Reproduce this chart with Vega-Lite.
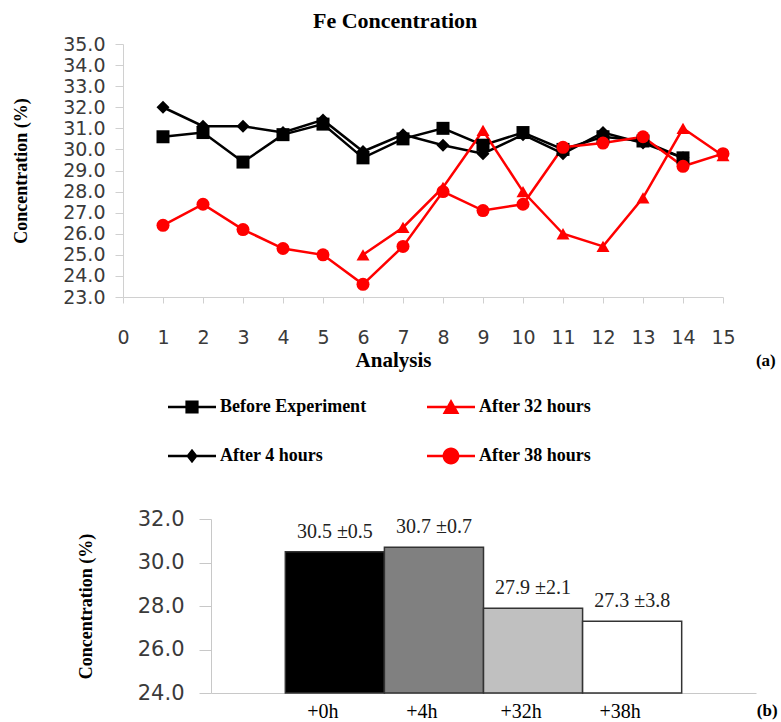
{
  "$schema": "https://vega.github.io/schema/vega-lite/v6.json",
  "background": "white",
  "padding": {"left": 12, "top": 10, "right": 0, "bottom": 0},
  "bounds": "flush",
  "spacing": 222,
  "title": {"text": "Fe Concentration", "font": "Liberation Serif", "fontSize": 22, "fontWeight": "bold", "color": "black", "anchor": "middle", "offset": 2},
  "config": {"view": {"stroke": null}},
  "resolve": {"scale": {"color": "independent", "shape": "independent", "size": "independent", "fill": "independent", "stroke": "independent"}},
  "datasets": {
    "lines": [
      {"series": "Before Experiment", "analysis": 1, "value": 30.6},
      {"series": "Before Experiment", "analysis": 2, "value": 30.8},
      {"series": "Before Experiment", "analysis": 3, "value": 29.4},
      {"series": "Before Experiment", "analysis": 4, "value": 30.7},
      {"series": "Before Experiment", "analysis": 5, "value": 31.2},
      {"series": "Before Experiment", "analysis": 6, "value": 29.6},
      {"series": "Before Experiment", "analysis": 7, "value": 30.5},
      {"series": "Before Experiment", "analysis": 8, "value": 31.0},
      {"series": "Before Experiment", "analysis": 9, "value": 30.2},
      {"series": "Before Experiment", "analysis": 10, "value": 30.8},
      {"series": "Before Experiment", "analysis": 11, "value": 30.0},
      {"series": "Before Experiment", "analysis": 12, "value": 30.6},
      {"series": "Before Experiment", "analysis": 13, "value": 30.4},
      {"series": "Before Experiment", "analysis": 14, "value": 29.6},
      {"series": "After 4 hours", "analysis": 1, "value": 32.0},
      {"series": "After 4 hours", "analysis": 2, "value": 31.1},
      {"series": "After 4 hours", "analysis": 3, "value": 31.1},
      {"series": "After 4 hours", "analysis": 4, "value": 30.8},
      {"series": "After 4 hours", "analysis": 5, "value": 31.4},
      {"series": "After 4 hours", "analysis": 6, "value": 29.9},
      {"series": "After 4 hours", "analysis": 7, "value": 30.7},
      {"series": "After 4 hours", "analysis": 8, "value": 30.2},
      {"series": "After 4 hours", "analysis": 9, "value": 29.8},
      {"series": "After 4 hours", "analysis": 10, "value": 30.7},
      {"series": "After 4 hours", "analysis": 11, "value": 29.8},
      {"series": "After 4 hours", "analysis": 12, "value": 30.8},
      {"series": "After 4 hours", "analysis": 13, "value": 30.3},
      {"series": "After 4 hours", "analysis": 14, "value": 29.6},
      {"series": "After 32 hours", "analysis": 6, "value": 25.0},
      {"series": "After 32 hours", "analysis": 7, "value": 26.3},
      {"series": "After 32 hours", "analysis": 8, "value": 28.2},
      {"series": "After 32 hours", "analysis": 9, "value": 30.9},
      {"series": "After 32 hours", "analysis": 10, "value": 28.0},
      {"series": "After 32 hours", "analysis": 11, "value": 26.0},
      {"series": "After 32 hours", "analysis": 12, "value": 25.4},
      {"series": "After 32 hours", "analysis": 13, "value": 27.7},
      {"series": "After 32 hours", "analysis": 14, "value": 31.0},
      {"series": "After 32 hours", "analysis": 15, "value": 29.7},
      {"series": "After 38 hours", "analysis": 1, "value": 26.4},
      {"series": "After 38 hours", "analysis": 2, "value": 27.4},
      {"series": "After 38 hours", "analysis": 3, "value": 26.2},
      {"series": "After 38 hours", "analysis": 4, "value": 25.3},
      {"series": "After 38 hours", "analysis": 5, "value": 25.0},
      {"series": "After 38 hours", "analysis": 6, "value": 23.6},
      {"series": "After 38 hours", "analysis": 7, "value": 25.4},
      {"series": "After 38 hours", "analysis": 8, "value": 28.0},
      {"series": "After 38 hours", "analysis": 9, "value": 27.1},
      {"series": "After 38 hours", "analysis": 10, "value": 27.4},
      {"series": "After 38 hours", "analysis": 11, "value": 30.1},
      {"series": "After 38 hours", "analysis": 12, "value": 30.3},
      {"series": "After 38 hours", "analysis": 13, "value": 30.6},
      {"series": "After 38 hours", "analysis": 14, "value": 29.2},
      {"series": "After 38 hours", "analysis": 15, "value": 29.8}
    ],
    "bars": [
      {"time": "+0h", "value": 30.5, "label": "30.5 ±0.5"},
      {"time": "+4h", "value": 30.7, "label": "30.7 ±0.7"},
      {"time": "+32h", "value": 27.9, "label": "27.9 ±2.1"},
      {"time": "+38h", "value": 27.3, "label": "27.3 ±3.8"}
    ]
  },
  "vconcat": [
    {
      "width": 600,
      "height": 253,
      "data": {"name": "lines"},
      "title": {"text": "(a)", "orient": "right", "angle": 0, "anchor": "end", "frame": "group", "align": "left", "baseline": "middle", "offset": 0, "dx": 1, "dy": 64, "font": "Liberation Serif", "fontSize": 17, "fontWeight": "bold", "color": "black"},
      "encoding": {
        "x": {"field": "analysis", "type": "quantitative",
          "scale": {"domain": [0, 15], "nice": false},
          "axis": {"values": [0,1,2,3,4,5,6,7,8,9,10,11,12,13,14,15], "format": "d", "grid": false,
            "tickSize": 6, "labelPadding": 25, "labelFlush": false, "labelOverlap": false, "labelBound": false,
            "labelFont": "DejaVu Sans", "labelFontSize": 19, "labelColor": "#3a3a3a",
            "domainColor": "#d0d0d0", "tickColor": "#d0d0d0",
            "title": "Analysis", "titleFont": "Liberation Serif", "titleFontSize": 21, "titleFontWeight": "bold", "titleColor": "black", "titlePadding": 2, "titleX": 270}},
        "y": {"field": "value", "type": "quantitative",
          "scale": {"domain": [23, 35], "zero": false, "nice": false},
          "axis": {"values": [23,24,25,26,27,28,29,30,31,32,33,34,35], "format": ".1f", "grid": false,
            "tickSize": 8, "labelPadding": 10, "labelFlush": false, "labelOverlap": false,
            "labelFont": "DejaVu Sans", "labelFontSize": 19, "labelColor": "#3a3a3a",
            "domainColor": "#d0d0d0", "tickColor": "#d0d0d0",
            "title": "Concentration (%)", "titleFont": "Liberation Serif", "titleFontSize": 18, "titleFontWeight": "bold", "titleColor": "black", "titlePadding": 32}}
      },
      "layer": [
        {
          "mark": {"type": "line", "strokeWidth": 2.5},
          "encoding": {
            "stroke": {"field": "series", "type": "nominal",
              "scale": {"domain": ["Before Experiment", "After 4 hours", "After 32 hours", "After 38 hours"], "range": ["#000000", "#000000", "#ff0000", "#ff0000"]},
              "legend": null}
          }
        },
        {
          "mark": {"type": "point", "filled": true, "opacity": 1},
          "encoding": {
            "fill": {"field": "series", "type": "nominal",
              "scale": {"domain": ["Before Experiment", "After 4 hours", "After 32 hours", "After 38 hours"], "range": ["#000000", "#000000", "#ff0000", "#ff0000"]},
              "legend": null},
            "shape": {"field": "series", "type": "nominal",
              "scale": {"domain": ["Before Experiment", "After 4 hours", "After 32 hours", "After 38 hours"], "range": ["square", "diamond", "triangle-up", "circle"]},
              "legend": null},
            "size": {"field": "series", "type": "nominal",
              "scale": {"domain": ["Before Experiment", "After 4 hours", "After 32 hours", "After 38 hours"], "range": [169, 169, 210, 140]},
              "legend": null}
          }
        },
        {
          "mark": {"type": "point", "filled": true, "opacity": 0},
          "encoding": {
            "color": {"field": "series", "type": "nominal",
              "scale": {"domain": ["Before Experiment", "After 4 hours", "After 32 hours", "After 38 hours"], "range": ["#000000", "#000000", "#ff0000", "#ff0000"]},
              "legend": {"title": null, "orient": "none", "legendX": 60, "legendY": 354, "columns": 2, "padding": 0,
                "symbolSize": 144, "symbolStrokeWidth": 0, "symbolOpacity": 1,
                "labelFont": "Liberation Serif", "labelFontSize": 18, "labelFontWeight": "bold", "labelColor": "black",
                "labelOffset": 19, "columnPadding": 60, "rowPadding": 31, "labelLimit": 300}},
            "shape": {"field": "series", "type": "nominal",
              "scale": {"domain": ["Before Experiment", "After 4 hours", "After 32 hours", "After 38 hours"],
                "range": [
                  "M-4,-0.22H4V0.22H-4Z M-1.1,-1.1H1.1V1.1H-1.1Z",
                  "M-4,-0.22H4V0.22H-4Z M0,-1.2L0.95,0L0,1.2L-0.95,0Z",
                  "M-4,-0.22H4V0.22H-4Z M0,-1.35L1.4,1.15H-1.4Z",
                  "M-4,-0.22H4V0.22H-4Z M-1.4,0A1.4,1.4,0,1,1,1.4,0A1.4,1.4,0,1,1,-1.4,0Z"
                ]},
              "legend": {"title": null, "orient": "none", "legendX": 60, "legendY": 354, "columns": 2, "padding": 0,
                "symbolSize": 144, "symbolStrokeWidth": 0, "symbolOpacity": 1,
                "labelFont": "Liberation Serif", "labelFontSize": 18, "labelFontWeight": "bold", "labelColor": "black",
                "labelOffset": 19, "columnPadding": 60, "rowPadding": 31, "labelLimit": 300}}
          }
        }
      ],
      "resolve": {"scale": {"shape": "independent", "color": "independent"}}
    },
    {
      "width": 635,
      "height": 174,
      "data": {"name": "bars"},
      "title": {"text": "(b)", "orient": "right", "angle": 0, "anchor": "end", "frame": "group", "align": "left", "baseline": "middle", "offset": 0, "dx": -22, "dy": 18, "font": "Liberation Serif", "fontSize": 17, "fontWeight": "bold", "color": "black"},
      "encoding": {
        "x": {"field": "time", "type": "nominal", "sort": null,
          "scale": {"domain": ["+0h", "+4h", "+32h", "+38h"], "range": [88, 633], "paddingInner": 0, "paddingOuter": 0.75},
          "axis": {"title": null, "labelAngle": 0, "ticks": false, "labelPadding": 8, "labelOffset": -12,
            "labelFont": "Liberation Serif", "labelFontSize": 20, "labelColor": "black", "domainColor": "#c8c8c8"}},
        "y": {"field": "value", "type": "quantitative",
          "scale": {"domain": [24, 32], "zero": false, "nice": false, "clamp": true},
          "axis": {"values": [24, 26, 28, 30, 32], "format": ".1f", "grid": false, "offset": -88,
            "tickSize": 12, "labelPadding": 15, "labelFlush": false, "labelOverlap": false,
            "labelFont": "DejaVu Sans", "labelFontSize": 21, "labelColor": "#3a3a3a",
            "domainColor": "#c8c8c8", "tickColor": "#c8c8c8",
            "title": "Concentration (%)", "titleFont": "Liberation Serif", "titleFontSize": 18, "titleFontWeight": "bold", "titleColor": "black", "titlePadding": 42}}
      },
      "layer": [
        {
          "mark": {"type": "bar", "stroke": "#333333", "strokeWidth": 1.5},
          "encoding": {
            "color": {"field": "time", "type": "nominal",
              "scale": {"domain": ["+0h", "+4h", "+32h", "+38h"], "range": ["#000000", "#808080", "#c0c0c0", "#ffffff"]},
              "legend": null}
          }
        },
        {
          "mark": {"type": "text", "dy": -20, "baseline": "middle", "font": "Liberation Serif", "fontSize": 20, "color": "#222222"},
          "encoding": {"text": {"field": "label"}}
        }
      ]
    }
  ]
}
